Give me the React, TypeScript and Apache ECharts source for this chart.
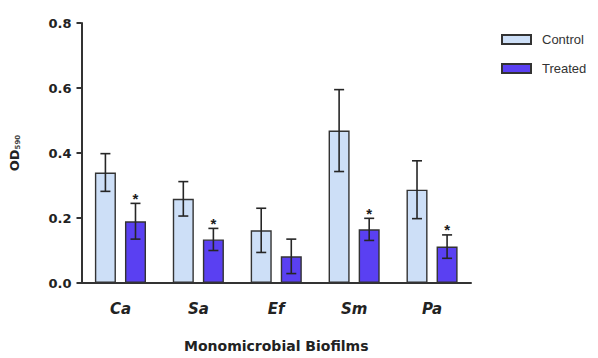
import React, { useEffect, useRef } from "react";
import * as echarts from "echarts";

const categories = ["Ca", "Sa", "Ef", "Sm", "Pa"];
const controlMean = [0.34, 0.259, 0.162, 0.469, 0.287];
const controlErr = [0.058, 0.053, 0.068, 0.126, 0.089];
const treatedMean = [0.19, 0.134, 0.082, 0.165, 0.112];
const treatedErr = [0.055, 0.034, 0.053, 0.034, 0.036];
const treatedSignificant = [true, true, false, true, true];
const yTicks = [0, 0.2, 0.4, 0.6, 0.8];

const FONT = "Liberation Sans, Arial, sans-serif";
const BOLDFONT = "DejaVu Sans, Liberation Sans, sans-serif";
const CONTROL_COLOR = "#cddff7";
const TREATED_COLOR = "#5a40f2";
const EDGE = "#333333";

export default function App() {
  const ref = useRef<HTMLDivElement>(null);
  useEffect(() => {
    if (!ref.current) return;
    const chart = echarts.init(ref.current, null, { renderer: "svg" });

    const OFFSET_FRAC = 0.193;
    const makeErr = (means: number[], errs: number[], sign: number, stars?: boolean[]) => ({
      type: "custom",
      z: 5,
      silent: true,
      data: means.map((m, i) => [i, m, errs[i], stars && stars[i] ? 1 : 0]),
      renderItem: (params: any, api: any) => {
        const i = api.value(0);
        const m = api.value(1);
        const e = api.value(2);
        const star = api.value(3);
        const band = api.size([1, 0])[0];
        const c = api.coord([i, m]);
        const x = c[0] + sign * band * OFFSET_FRAC;
        const yTop = api.coord([i, m + e])[1];
        const yBot = api.coord([i, m - e])[1];
        const cap = 5;
        const style = { stroke: "#262626", lineWidth: 1.6 };
        const children: any[] = [
          { type: "line", shape: { x1: x, y1: yTop, x2: x, y2: yBot }, style },
          { type: "line", shape: { x1: x - cap, y1: yTop, x2: x + cap, y2: yTop }, style },
          { type: "line", shape: { x1: x - cap, y1: yBot, x2: x + cap, y2: yBot }, style },
        ];
        if (star) {
          children.push({
            type: "text",
            style: {
              text: "*",
              x: x,
              y: yTop - 5,
              align: "center",
              verticalAlign: "middle",
              font: `bold 15px ${FONT}`,
              fill: "#1a1a1a",
            },
          });
        }
        return { type: "group", children };
      },
    });

    chart.setOption({
      animation: false,
      grid: { left: 76, right: 127, top: 23, bottom: 72, containLabel: false },
      legend: {
        orient: "vertical",
        left: 496,
        top: 28,
        itemWidth: 29,
        itemHeight: 9,
        itemGap: 16,
        icon: "rect",
        textStyle: { fontFamily: FONT, fontSize: 13, color: "#333", padding: [0, 0, 0, 6] },
        data: ["Control", "Treated"],
      },
      xAxis: {
        type: "category",
        data: categories,
        name: "Monomicrobial Biofilms",
        nameLocation: "middle",
        nameGap: 56,
        nameTextStyle: { fontFamily: BOLDFONT, fontWeight: "bold", fontSize: 14, color: "#222" },
        axisLine: { lineStyle: { color: "#333", width: 2 } },
        axisTick: { alignWithLabel: true, length: 5, lineStyle: { color: "#333", width: 2 } },
        axisLabel: {
          margin: 18,
          fontFamily: BOLDFONT,
          fontWeight: "bold",
          fontStyle: "italic",
          fontSize: 15,
          color: "#222",
        },
      },
      yAxis: {
        type: "value",
        min: 0,
        max: 0.8,
        interval: 0.2,
        splitLine: { show: false },
        name: "{a|OD}{b|590}",
        nameLocation: "middle",
        nameRotate: 90,
        nameGap: 60,
        nameTextStyle: {
          rich: {
            a: { fontFamily: BOLDFONT, fontWeight: "bold", fontSize: 13, color: "#222" },
            b: { fontFamily: BOLDFONT, fontWeight: "bold", fontSize: 7, color: "#444", padding: [7, 0, 0, 0] },
          },
        },
        axisLine: { show: true, lineStyle: { color: "#333", width: 2 } },
        axisTick: { show: true, length: 5, lineStyle: { color: "#333", width: 2 } },
        axisLabel: {
          margin: 10,
          fontFamily: BOLDFONT,
          fontWeight: "bold",
          fontSize: 13,
          color: "#222",
          formatter: (v: number) => (yTicks.includes(Math.round(v * 10) / 10) ? v.toFixed(1) : ""),
        },
      },
      series: [
        {
          name: "Control",
          type: "bar",
          data: controlMean,
          barWidth: "27%",
          barGap: "43%",
          itemStyle: { color: CONTROL_COLOR, borderColor: EDGE, borderWidth: 1.4 },
        },
        {
          name: "Treated",
          type: "bar",
          data: treatedMean,
          barWidth: "27%",
          barGap: "43%",
          itemStyle: { color: TREATED_COLOR, borderColor: EDGE, borderWidth: 1.4 },
        },
        makeErr(controlMean, controlErr, -1),
        makeErr(treatedMean, treatedErr, 1, treatedSignificant),
      ],
    });
    return () => chart.dispose();
  }, []);
  return <div ref={ref} style={{ width: 598, height: 358, position: "absolute", left: 0, top: 0 }} />;
}
